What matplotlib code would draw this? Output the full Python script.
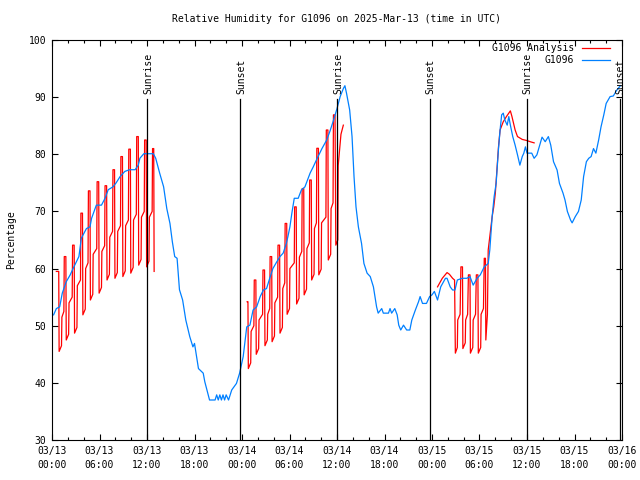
import matplotlib
matplotlib.use('Agg')
import matplotlib.pyplot as plt

plt.rcParams['font.family'] = ['DejaVu Sans Mono']

# 时间单位: 从 03/13 00:00 起的小时数
tick_hours = [0, 6, 12, 18, 24, 30, 36, 42, 48, 54, 60, 66, 72]
tick_labels = ['03/13\n00:00', '03/13\n06:00', '03/13\n12:00', '03/13\n18:00',
               '03/14\n00:00', '03/14\n06:00', '03/14\n12:00', '03/14\n18:00',
               '03/15\n00:00', '03/15\n06:00', '03/15\n12:00', '03/15\n18:00',
               '03/16\n00:00']

# 日出日落
sun_hours = [12.05, 23.8, 36.05, 47.7, 60.0, 71.7]
sun_names = ['Sunrise', 'Sunset', 'Sunrise', 'Sunset', 'Sunrise', 'Sunset']

# 观测 G1096
obs_t = [0.2, 0.55, 0.97, 1.3, 1.8, 2.3, 2.66, 3.4, 3.7, 4.35, 4.8, 5.0, 5.6, 6.25, 6.7, 7.1,
         7.7, 8.1, 8.6, 9.2, 9.8, 10.5, 10.9, 11.1, 11.6, 12.8, 13.1, 13.6, 14.1, 14.5, 14.9,
         15.2, 15.5, 15.8, 16.1, 16.5, 16.9, 17.4, 17.8, 18.0, 18.5, 19.1, 19.3, 19.9, 20.6,
         20.8, 21.0, 21.2, 21.4, 21.6, 21.8, 22.0, 22.3, 22.7, 23.3, 23.7, 24.15, 24.6, 25.0,
         25.4, 25.85, 26.3, 26.7, 27.1, 27.5, 27.9, 28.4, 28.8, 29.2, 29.6, 29.8, 30.05, 30.3,
         30.6, 31.1, 31.5, 31.95, 32.6, 33.0, 33.5, 34.1, 34.7, 35.1, 35.5, 36.0, 36.4, 36.8,
         37.0, 37.2, 37.6, 37.9, 38.15, 38.4, 38.7, 39.1, 39.4, 39.8, 40.2, 40.6, 41.0, 41.2,
         41.65, 41.85, 42.5, 42.7, 42.9, 43.3, 43.6, 43.8, 44.05, 44.4, 44.8, 45.2, 45.45,
         45.9, 46.3, 46.5, 46.8, 47.3, 47.7, 48.0, 48.3, 48.7, 49.1, 49.7, 49.9, 50.3, 50.6,
         50.9, 51.2, 51.8, 52.4, 52.8, 53.2, 53.7, 54.1, 54.6, 55.1, 55.3, 55.6, 55.85, 56.1,
         56.4, 56.6, 56.8, 57.0, 57.2, 57.5, 57.7, 57.9, 58.2, 58.5, 58.8, 59.1, 59.4, 59.6,
         59.8, 60.0, 60.6, 60.9, 61.25, 61.6, 61.9, 62.3, 62.7, 63.0, 63.35, 63.8, 64.1,
         64.55, 64.8, 65.1, 65.5, 65.7, 66.1, 66.5, 66.85, 67.15, 67.5, 67.8, 68.1, 68.4,
         68.7, 69.05, 69.35, 69.7, 70.0, 70.5, 70.9, 71.35, 71.8]
obs_v = [51.9, 53.0, 53.3, 55.7, 57.7, 58.9, 60.0, 62.1, 65.3, 67.0, 67.3, 68.8, 71.1, 71.1,
         72.3, 73.8, 74.3, 75.0, 76.1, 77.0, 77.3, 77.3, 78.1, 79.3, 80.1, 80.1, 79.3, 76.7,
         74.3, 70.5, 67.9, 64.7, 62.1, 61.8, 56.3, 54.5, 51.0, 48.1, 46.3, 46.9, 42.5, 41.7,
         40.2, 37.0, 37.0, 37.9, 37.0, 37.9, 37.0, 37.9, 37.0, 37.9, 37.0, 38.75, 39.9, 41.7,
         44.6, 49.8, 50.1, 52.75, 53.3, 55.1, 56.25, 56.5, 58.3, 60.0, 61.2, 62.1, 62.7, 64.4,
         65.6, 67.3, 69.7, 72.3, 72.3, 73.75, 74.3, 76.7, 77.8, 79.3, 81.0, 82.5, 84.0, 85.7,
         88.0, 90.1, 91.5, 92.0, 90.7, 87.75, 83.1, 76.1, 70.8, 67.3, 64.4, 60.9, 59.2, 58.6,
         56.8, 53.3, 52.2, 53.0, 52.2, 52.2, 53.0, 52.2, 53.0, 51.9, 50.1, 49.25, 50.1, 49.25,
         49.25, 51.0, 52.75, 54.2, 55.1, 53.9, 53.9, 55.1, 55.4, 56.0, 54.5, 56.8, 58.3, 58.3,
         56.8, 56.25, 56.25, 58.0, 58.3, 58.3, 58.6, 57.1, 58.3, 58.9, 60.3, 60.9, 63.25, 69.1,
         72.6, 74.9, 81.0, 84.25, 86.9, 87.2, 86.0, 85.1, 86.6, 85.1, 83.1, 81.6, 79.9, 78.1,
         79.6, 80.2, 81.3, 80.2, 80.2, 79.3, 79.9, 81.6, 83.0, 82.2, 83.1, 81.6, 78.7, 77.25,
         74.9, 73.2, 72.0, 70.0, 68.5, 68.0, 69.1, 70.0, 72.0, 76.1, 78.7, 79.3, 79.6, 81.0,
         80.2, 82.5, 84.8, 86.9, 88.9, 90.1, 90.2, 91.25, 92.0]

# 分析场 G1096 Analysis (三段, 锯齿状, 每行一个小时)
ana1_t = [0.55, 0.85, 0.9,
          1.2, 1.25, 1.5, 1.55, 1.75, 1.8,
          2.1, 2.15, 2.55, 2.6, 2.8, 2.85,
          3.15, 3.2, 3.6, 3.65, 3.85, 3.9,
          4.2, 4.25, 4.55, 4.6, 4.8, 4.85,
          5.15, 5.2, 5.65, 5.7, 5.9, 5.95,
          6.25, 6.3, 6.65, 6.7, 6.9, 6.95,
          7.25, 7.3, 7.65, 7.7, 7.9, 7.95,
          8.25, 8.3, 8.65, 8.7, 8.9, 8.95,
          9.25, 9.3, 9.65, 9.7, 9.9, 9.95,
          10.25, 10.3, 10.65, 10.7, 10.9, 10.95,
          11.25, 11.3, 11.65, 11.7, 11.9, 11.95,
          12.25, 12.3, 12.65, 12.7, 12.85, 12.9]
ana1_v = [59.5, 59.5, 45.5,
          46.5, 51.5, 52.5, 62.1, 62.1, 47.5,
          48.5, 54.0, 55.0, 64.1, 64.1, 48.7,
          49.7, 57.0, 58.0, 69.7, 69.7, 51.9,
          52.9, 60.0, 61.0, 73.6, 73.6, 54.5,
          55.5, 62.5, 63.5, 75.2, 75.2, 55.7,
          56.7, 63.0, 64.0, 74.5, 74.5, 58.0,
          59.0, 65.5, 66.5, 77.3, 77.3, 58.3,
          59.3, 66.5, 67.5, 79.6, 79.6, 58.6,
          59.6, 67.5, 68.5, 80.9, 80.9, 59.2,
          60.2, 68.5, 69.5, 83.1, 83.1, 60.6,
          61.6, 69.0, 70.0, 82.5, 82.5, 60.3,
          61.3, 69.0, 70.0, 81.0, 81.0, 59.5]

ana2_t = [24.65, 24.75, 24.8,
          25.1, 25.15, 25.5, 25.55, 25.75, 25.8,
          26.1, 26.15, 26.6, 26.65, 26.85, 26.9,
          27.2, 27.25, 27.5, 27.55, 27.75, 27.8,
          28.1, 28.15, 28.5, 28.55, 28.75, 28.8,
          29.1, 29.15, 29.4, 29.45, 29.65, 29.7,
          30.0, 30.05, 30.6, 30.65, 30.85, 30.9,
          31.2, 31.25, 31.55, 31.6, 31.8, 31.85,
          32.15, 32.2, 32.5, 32.55, 32.75, 32.8,
          33.1, 33.15, 33.4, 33.45, 33.65, 33.7,
          34.0, 34.05, 34.6, 34.65, 34.85, 34.9,
          35.2, 35.25, 35.5, 35.55, 35.75, 35.85,
          36.1, 36.15, 36.5, 36.8]
ana2_v = [54.2, 54.2, 42.5,
          43.5, 49.0, 50.0, 58.0, 58.0, 45.0,
          46.0, 51.0, 52.0, 59.75, 59.75, 46.5,
          47.5, 52.0, 53.0, 62.1, 62.1, 47.2,
          48.2, 54.0, 55.0, 64.1, 64.1, 48.7,
          49.7, 56.5, 57.5, 67.9, 67.9, 52.0,
          53.0, 60.0, 61.0, 70.8, 70.8, 53.8,
          54.8, 62.0, 63.0, 74.0, 74.0, 55.4,
          56.4, 63.5, 64.5, 75.5, 75.5, 58.0,
          59.0, 67.0, 68.0, 81.05, 81.05, 58.9,
          59.9, 68.0, 69.0, 84.25, 84.25, 61.5,
          62.5, 70.5, 71.5, 86.9, 86.9, 64.1,
          65.0, 78.0, 83.5, 85.1]

ana3_t = [48.7, 49.3, 49.9, 50.2, 50.6, 50.85, 50.95,
          51.2, 51.25, 51.55, 51.65, 51.85, 51.9,
          52.2, 52.25, 52.5, 52.6, 52.8, 52.85,
          53.15, 53.2, 53.5, 53.6, 53.8, 53.85,
          54.15, 54.2, 54.5, 54.6, 54.75, 54.8,
          55.0, 55.1, 55.6, 55.8, 56.0, 56.2, 56.4, 56.6, 57.0, 57.4, 57.7, 57.9,
          58.1, 58.5, 58.8, 59.4, 60.0, 60.4, 60.9]
ana3_v = [56.8, 58.3, 59.3, 59.0, 58.3, 58.0, 45.2,
          46.2, 51.0, 52.0, 60.3, 60.3, 46.0,
          47.0, 51.0, 52.0, 58.9, 58.9, 45.2,
          46.2, 51.0, 52.0, 58.9, 58.9, 45.2,
          46.2, 52.0, 53.0, 61.8, 61.8, 47.5,
          52.0, 63.25, 69.1, 70.8, 73.2, 77.25, 81.3, 84.25, 85.7, 86.6, 87.2, 87.6,
          86.6, 84.25, 83.1, 82.6, 82.4, 82.2, 82.0]

RED = '#ff0000'
BLUE = '#0080ff'
FS = 7

fig = plt.figure(figsize=(6.4, 4.8), dpi=100)
ax = fig.add_axes([52 / 640, 40 / 480, 570 / 640, 400 / 480])

ax.plot(ana1_t, ana1_v, color=RED, lw=0.9, label='G1096 Analysis')
ax.plot(ana2_t, ana2_v, color=RED, lw=0.9)
ax.plot(ana3_t, ana3_v, color=RED, lw=0.9)
ax.plot(obs_t, obs_v, color=BLUE, lw=0.9, label='G1096')

for h, name in zip(sun_hours, sun_names):
    ax.plot([h, h], [30, 89.6], color='black', lw=0.9)
    ax.text(h + 0.1, 90.6, name, rotation=90, ha='center', va='bottom', fontsize=FS)

ax.set_xlim(0, 72)
ax.set_ylim(30, 100)
ax.set_xticks(tick_hours)
ax.set_xticklabels(tick_labels, fontsize=FS, linespacing=1.6)
ax.set_xticks(range(0, 73, 2), minor=True)
ax.set_yticks(range(30, 101, 10))
ax.tick_params(axis='y', labelsize=FS)
ax.tick_params(which='both', direction='in', top=True, right=True, width=0.8)
ax.tick_params(which='major', length=4, pad=4)
ax.tick_params(which='minor', length=2.3)
for s in ax.spines.values():
    s.set_linewidth(0.8)

leg = ax.legend(loc='upper right', bbox_to_anchor=(610 / 640, 1 - 43 / 480),
                bbox_transform=fig.transFigure, frameon=False, markerfirst=False,
                fontsize=FS, handlelength=2.9, handletextpad=0.8, labelspacing=0.25,
                borderpad=0, borderaxespad=0)

fig.text(337 / 640, 1 - 19 / 480, 'Relative Humidity for G1096 on 2025-Mar-13 (time in UTC)',
         ha='center', va='center', fontsize=FS)
fig.text(11 / 640, 0.5, 'Percentage', rotation=90, ha='center', va='center', fontsize=FS)

fig.savefig('out.png', dpi=100)
